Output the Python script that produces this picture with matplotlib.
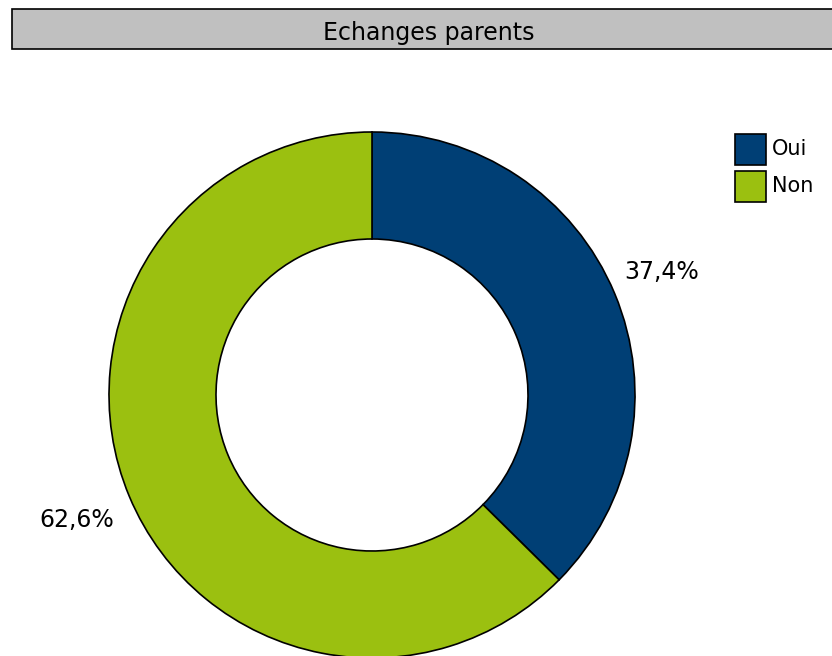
import matplotlib
matplotlib.use("Agg")
import matplotlib.pyplot as plt
from matplotlib.patches import Rectangle

title = "Echanges parents"
categories = ["Oui", "Non"]
values = [37.4, 62.6]
colors = ["#003F75", "#9BC010"]

W, H = 832, 656
fig = plt.figure(figsize=(W / 100, H / 100), dpi=100)
ax = fig.add_axes([0, 0, 1, 1])
ax.set_xlim(0, W)
ax.set_ylim(0, H)
ax.set_aspect("equal")
ax.axis("off")

font = ["DejaVu Sans"]

# title box
ax.add_patch(Rectangle((12, H - 49), 840, 40, facecolor="#C0C0C0",
                       edgecolor="black", linewidth=1.2))
ax.text(429, H - 33, title, ha="center", va="center", fontsize=17,
        family=font, color="black")

cx, cy = 372, H - 395
R, r = 263, 156
wedges, _ = ax.pie(values, colors=colors, startangle=90, counterclock=False,
                   center=(cx, cy), radius=R, frame=True,
                   wedgeprops=dict(width=R - r, edgecolor="black", linewidth=1.2))
ax.set_xlim(0, W)
ax.set_ylim(0, H)
ax.axis("off")

# percentage labels
label_pos = [(662, H - 272), (77, H - 520)]
for v, (x, y) in zip(values, label_pos):
    ax.text(x, y, f"{v:.1f}%".replace(".", ","), ha="center", va="center",
            fontsize=17, family=font, color="black")

# legend
for i, (c, lab) in enumerate(zip(colors, categories)):
    y0 = H - 165 - i * 37
    ax.add_patch(Rectangle((735, y0), 31, 31, facecolor=c, edgecolor="black",
                           linewidth=1.2))
    ax.text(772, y0 + 16, lab, ha="left", va="center", fontsize=15,
            family=font, color="black")

fig.savefig("out.png", dpi=100)
